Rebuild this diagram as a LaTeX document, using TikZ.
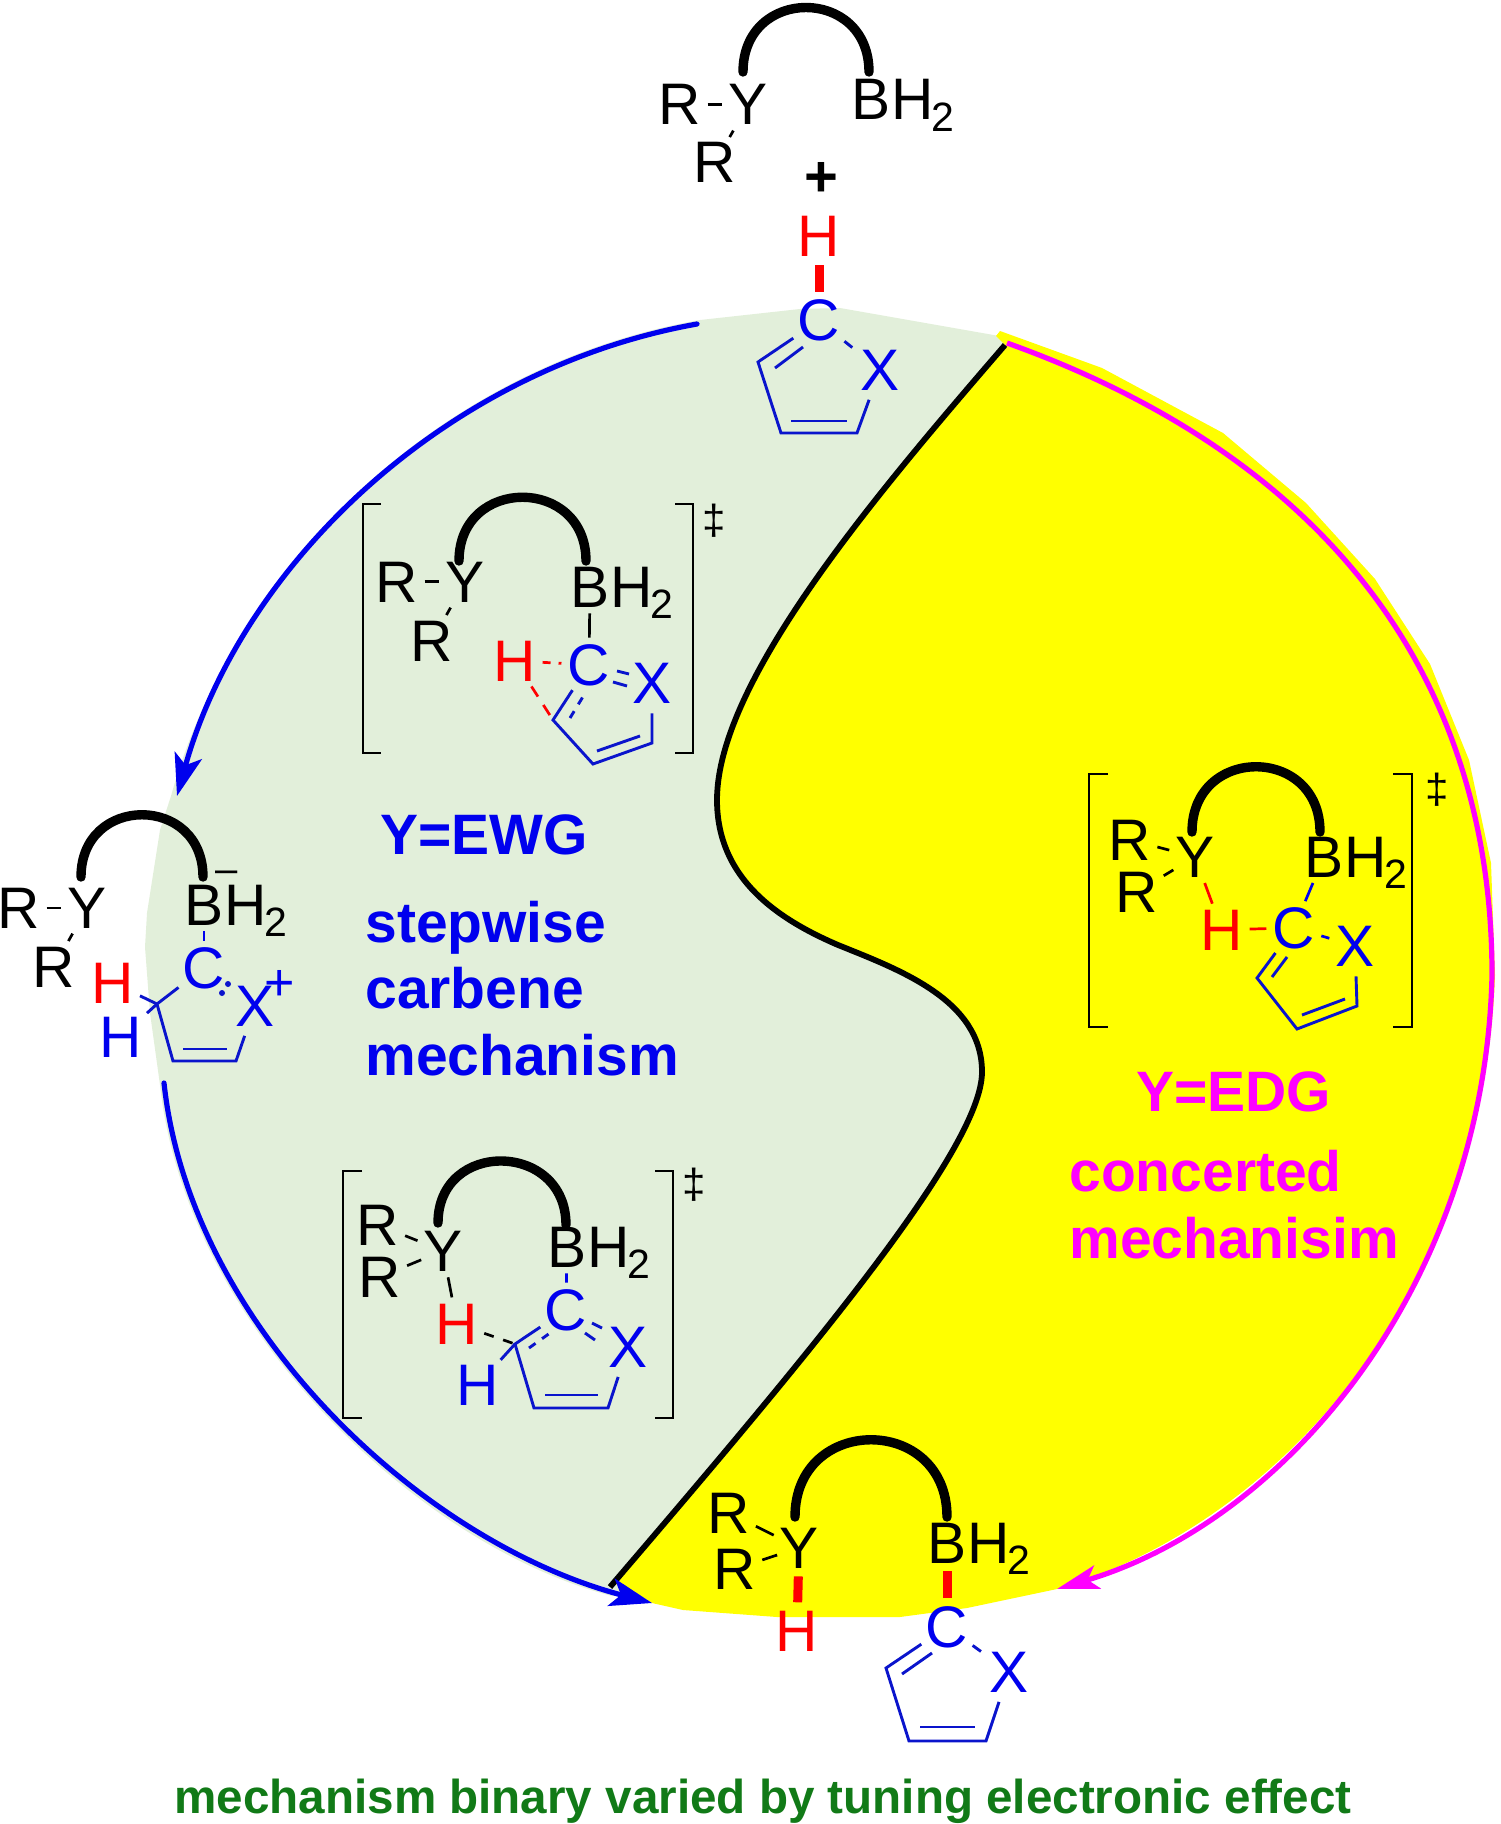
\documentclass[tikz,border=0pt]{standalone}
\usepackage{xcolor}
\usepackage{fontspec}
\setmainfont{Liberation Sans}
\usepackage{tikz}
\usetikzlibrary{arrows.meta, calc}
\definecolor{csgreen}{HTML}{E2EFDA}
\definecolor{csyellow}{HTML}{FFFF00}
\definecolor{csblue}{HTML}{0000EE}
\definecolor{csring}{HTML}{0A14CC}
\definecolor{csred}{HTML}{FF0000}
\definecolor{csmagenta}{HTML}{FF00FF}
\definecolor{cscaption}{HTML}{117A17}
\newcommand{\atomfont}{\fontsize{29.3}{30}\selectfont}
\newcommand{\headfont}{\fontsize{28.5}{30}\selectfont\bfseries}
\newcommand{\subtwo}{\kern-1pt\raisebox{-5.8pt}{\fontsize{20.5}{22}\selectfont 2}}
\newcommand{\sdivide}{(1005,345) .. controls (880,490) and (717,680) .. (717,800) .. controls (717,880) and (780,920) .. (838,945) .. controls (900,970) and (982,1000) .. (982,1072) .. controls (982,1150) and (800,1365) .. (610,1587)}

\begin{document}
\begin{tikzpicture}[
    x=0.5pt, y=-0.5pt,
    atom/.style={font=\atomfont, inner sep=0pt, anchor=base},
    redatom/.style={atom, text=csred},
    blueatom/.style={atom, text=csblue},
    dagger/.style={font=\fontsize{21}{22}\selectfont, inner sep=0pt},
    headline/.style={font=\headfont, inner sep=0pt, anchor=base west},
    bond/.style={line width=1.35pt, shorten >=3pt, shorten <=3pt},
    bondlong/.style={bond, shorten >=1pt},
    redbond/.style={bond, color=csred},
    bluebond/.style={bond, color=csblue},
    thickbond/.style={line width=4.5pt, color=csred, shorten >=4pt, shorten <=4pt},
    ringline/.style={line width=1.45pt, color=csring, shorten <=2.5pt, shorten >=5pt},
    inner/.style={line width=1.45pt, color=csring},
    bridge/.style={line width=4.7pt, line cap=round},
    bracket/.style={line width=1.4pt},
    bluearc/.style={line width=2.6pt, color=csblue, line cap=round, -{Stealth[length=21pt, width=14pt, inset=5pt]}},
    pinkarc/.style={line width=2.6pt, color=csmagenta, -{Stealth[length=21pt, width=12pt, inset=5pt]}}
]
\useasboundingbox (0,0) rectangle (1500,1824);

% Two halves of the disc
\fill[csgreen] (1005,337) -- (840,308) -- (800,309) -- (700,320) .. controls (440,365) and (235,566) .. (171,796) -- (160,830) -- (147,913) -- (145,947) -- (150,1013) -- (160,1085) .. controls (186,1326) and (418,1546) .. (612,1596) -- (1000,1590) -- cycle;
\fill[csyellow] \sdivide -- (620,1583) -- (652,1603) -- (683,1610) -- (777,1617) -- (900,1617) -- (967,1608) -- (1057,1589) .. controls (1290,1520) and (1485,1280) .. (1495,975) -- (1491,863) -- (1469,760) -- (1430,664) -- (1375,579) -- (1306,503) -- (1223,433) -- (1102,368) -- (1000,331) -- (996,336) -- cycle;
\draw[line width=2.9pt] \sdivide;

% Cycle arrows
\draw[pinkarc] (1007,343) .. controls (1320,455) and (1492,670) .. (1492,975) .. controls (1485,1280) and (1290,1520) .. (1057,1589);
\draw[bluearc] (697,324) .. controls (440,370) and (240,570) .. (177,796);
\draw[bluearc] (164,1083) .. controls (190,1325) and (420,1542) .. (652,1603);

% Top reagents
\node[atom] (Ra) at (680,125) {R};
\node[atom] (Ya) at (748,125) {Y};
\node[atom] (Rb) at (715,183) {R};
\node[atom] (Ba) at (871,120) {B};
\node[atom, anchor=base west] (Ha) at (Ba.base east) {H\subtwo};
\draw[bond] (Ra) -- (Ya);
\draw[bond] (Ya) -- (Rb);
\draw[bridge] (743,72) .. controls +(0,-86) and +(0,-86) .. (869,72);
\node[atom, font=\fontsize{29}{30}\selectfont\bfseries] (plus) at (821,197) {+};
\node[redatom] (Hred) at (819,257) {H};
\node[blueatom] (Ca) at (819,341) {C};
\node[blueatom] (Xa) at (880,390) {X};
\draw[thickbond] (Hred) -- (Ca);
\coordinate (a1) at (758,362);
\coordinate (a2) at (781,433);
\coordinate (a3) at (857,433);
\draw[ringline] (Ca) -- (a1) -- (a2) -- (a3) -- (Xa);
\draw[ringline] (Ca) -- (Xa);
\draw[inner] (775,368) -- (803,347);
\draw[inner] (791,421) -- (847,421);

% Stepwise transition state, upper
\draw[bracket] (381,504) -- (363,504) -- (363,753) -- (381,753);
\draw[bracket] (675,504) -- (693,504) -- (693,753) -- (675,753);
\node[dagger] (ddb) at (714,521) {‡};
\node[atom] (Rc) at (397,602) {R};
\node[atom] (Yb) at (465,602) {Y};
\node[atom] (Rd) at (432,661) {R};
\node[atom] (Bb) at (590,607) {B};
\node[atom, anchor=base west] (Hb) at (Bb.base east) {H\subtwo};
\draw[bond] (Rc) -- (Yb);
\draw[bond] (Yb) -- (Rd);
\draw[bridge] (459,561) .. controls +(0,-85) and +(0,-85) .. (586,561);
\node[redatom] (Hc) at (515,681) {H};
\node[blueatom] (Cb) at (589,685) {C};
\node[blueatom] (Xb) at (652,703) {X};
\coordinate (b1) at (553,720);
\coordinate (b2) at (593,764);
\coordinate (b3) at (652,743);
\draw[bond] (Bb) -- (Cb);
\draw[redbond, dash pattern=on 4pt off 4pt] (Hc) -- (Cb);
\draw[redbond, dash pattern=on 6pt off 5pt, shorten >=0pt] (Hc) -- (b1);
\draw[ringline] (Cb) -- (b1) -- (b2) -- (b3) -- (Xb);
\draw[inner, dash pattern=on 4pt off 4pt] (570,718) -- (584,695);
\draw[inner] (597,751) -- (640,736);
\draw[inner] (617,671) -- (629,674);
\draw[inner] (613,682) -- (627,686);

% Carbene intermediate, left
\node[atom] (Re) at (19,928) {R};
\node[atom] (Yc) at (87,928) {Y};
\node[atom] (Rf) at (54,987) {R};
\node[atom] (Bc) at (204,925) {B};
\node[atom, anchor=base west] (Hd) at (Bc.base east) {H\subtwo};
\node[atom, font=\fontsize{20}{22}\selectfont] (minus) at (227,882) {–};
\draw[bond] (Re) -- (Yc);
\draw[bond] (Yc) -- (Rf);
\draw[bridge] (81,877) .. controls +(0,-83) and +(0,-83) .. (203,877);
\node[redatom] (He) at (113,1003) {H};
\node[blueatom] (Hf) at (121,1057) {H};
\node[blueatom] (Cc) at (204,988) {C};
\node[blueatom] (Xc) at (255,1026) {X};
\node[atom, text=csblue, font=\fontsize{26}{28}\selectfont] (cation) at (280,1000) {+};
\coordinate (c1) at (157,1004);
\coordinate (c2) at (173,1061);
\coordinate (c3) at (236,1061);
\draw[bluebond] (Bc) -- (Cc);
\draw[ringline] (Cc) -- (c1) -- (c2) -- (c3) -- (Xc);
\draw[inner, shorten <=3pt] (He) -- (c1);
\draw[inner, shorten <=3pt] (Hf) -- (c1);
\draw[inner] (183,1049) -- (227,1049);
\fill[csring] (228,984) circle (3) (222,993) circle (3);

% Stepwise transition state, lower
\draw[bracket] (362,1171) -- (343,1171) -- (343,1418) -- (362,1418);
\draw[bracket] (655,1171) -- (673,1171) -- (673,1418) -- (655,1418);
\node[dagger] (ddc) at (694,1185) {‡};
\node[atom] (Rg) at (378,1245) {R};
\node[atom] (Rh) at (380,1297) {R};
\node[atom] (Yd) at (443,1271) {Y};
\node[atom] (Bd) at (567,1267) {B};
\node[atom, anchor=base west] (Hg) at (Bd.base east) {H\subtwo};
\draw[bond] (Rg) -- (Yd);
\draw[bondlong] (Rh) -- (Yd);
\draw[bridge] (438,1223) .. controls +(0,-84) and +(0,-84) .. (566,1225);
\node[redatom] (Hh) at (457,1344) {H};
\node[blueatom] (Hi) at (478,1405) {H};
\node[blueatom] (Cd) at (566,1330) {C};
\node[blueatom] (Xd) at (628,1367) {X};
\coordinate (d1) at (515,1344);
\coordinate (d2) at (534,1408);
\coordinate (d3) at (608,1408);
\draw[bond] (Yd) -- (Hh);
\draw[bond, dash pattern=on 5pt off 5pt, shorten >=0pt] (Hh) -- (d1);
\draw[bluebond] (Bd) -- (Cd);
\draw[ringline] (Cd) -- (d1) -- (d2) -- (d3) -- (Xd);
\draw[inner, shorten <=3pt] (Hi) -- (d1);
\draw[inner, dash pattern=on 4pt off 4pt] (529,1348) -- (550,1333);
\draw[inner] (545,1395) -- (598,1395);
\draw[inner] (592,1323) -- (602,1328);
\draw[inner] (585,1333) -- (595,1340);

% Concerted transition state
\draw[bracket] (1108,774) -- (1089,774) -- (1089,1027) -- (1108,1027);
\draw[bracket] (1393,774) -- (1412,774) -- (1412,1027) -- (1393,1027);
\node[dagger] (dda) at (1437,790) {‡};
\node[atom] (Ri) at (1130,860) {R};
\node[atom] (Rj) at (1137,912) {R};
\node[atom] (Ye) at (1195,877) {Y};
\node[atom] (Be) at (1324,877) {B};
\node[atom, anchor=base west] (Hj) at (Be.base east) {H\subtwo};
\draw[bond] (Ri) -- (Ye);
\draw[bondlong] (Rj) -- (Ye);
\draw[bridge] (1192,832) .. controls +(0,-87) and +(0,-87) .. (1320,832);
\node[redatom] (Hk) at (1222,950) {H};
\node[blueatom] (Ce) at (1294,948) {C};
\node[blueatom] (Xe) at (1355,966) {X};
\coordinate (e1) at (1257,978);
\coordinate (e2) at (1297,1029);
\coordinate (e3) at (1357,1006);
\draw[redbond] (Ye) -- (Hk);
\draw[redbond] (Hk) -- (Ce);
\draw[bluebond] (Be) -- (Ce);
\draw[bluebond] (Ce) -- (Xe);
\draw[ringline] (Ce) -- (e1) -- (e2) -- (e3) -- (Xe);
\draw[inner] (1272,977) -- (1287,957);
\draw[inner] (1302,1015) -- (1345,999);

% Product at the bottom
\node[atom] (Rk) at (729,1533) {R};
\node[atom] (Rl) at (735,1589) {R};
\node[atom] (Yf) at (799,1568) {Y};
\node[atom] (Bf) at (947,1563) {B};
\node[atom, anchor=base west] (Hl) at (Bf.base east) {H\subtwo};
\draw[bond] (Rk) -- (Yf);
\draw[bondlong] (Rl) -- (Yf);
\draw[bridge] (795,1517) .. controls +(0,-103) and +(0,-103) .. (947,1517);
\node[redatom] (Hm) at (797,1651) {H};
\node[blueatom] (Cf) at (947,1647) {C};
\node[blueatom] (Xf) at (1009,1692) {X};
\coordinate (f1) at (886,1668);
\coordinate (f2) at (909,1741);
\coordinate (f3) at (986,1741);
\draw[thickbond] (Yf) -- (Hm);
\draw[thickbond] (Bf) -- (Cf);
\draw[ringline] (Cf) -- (f1) -- (f2) -- (f3) -- (Xf);
\draw[ringline] (Cf) -- (Xf);
\draw[inner] (902,1674) -- (932,1653);
\draw[inner] (920,1727) -- (975,1727);

% Labels
\node[headline, text=csblue] (ewg) at (380,854) {Y=EWG};
\node[headline, text=csblue] (stepwise) at (365,942) {stepwise};
\node[headline, text=csblue] (carbene) at (365,1008) {carbene};
\node[headline, text=csblue] (mechblue) at (365,1075) {mechanism};
\node[headline, text=csmagenta] (edg) at (1136,1111) {Y=EDG};
\node[headline, text=csmagenta] (concerted) at (1069,1191) {concerted};
\node[headline, text=csmagenta] (mechpink) at (1069,1258) {mechanisim};
\node[font=\fontsize{23.8}{25}\selectfont\bfseries, text=cscaption, inner sep=0pt, anchor=base] (caption) at (763,1813) {mechanism binary varied by tuning electronic effect};

\end{tikzpicture}
\end{document}
